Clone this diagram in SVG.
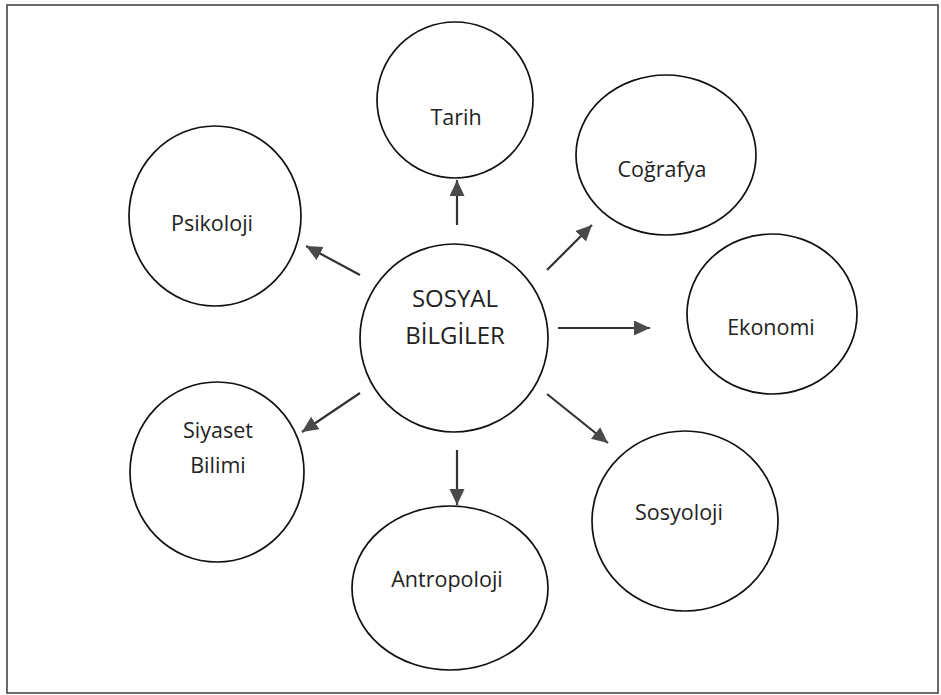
<svg xmlns="http://www.w3.org/2000/svg" width="941" height="695" viewBox="0 0 941 695">
<style>
.node ellipse{fill:#fff;stroke:#111;stroke-width:1.7}
.node text{font-family:"Open Sans","Noto Sans",sans-serif;font-size:21.5px;fill:#222;text-anchor:middle}
.node text.big{font-size:24px}
.conn line{stroke:#333;stroke-width:2.2}
</style>
<defs>
<marker id="ah" markerUnits="userSpaceOnUse" markerWidth="18" markerHeight="16" refX="16" refY="7.5" orient="auto">
<path d="M0,0 L16,7.5 L0,15 Z" fill="#4a4a4a"/>
</marker>
</defs>
<rect x="7" y="5" width="931" height="688" fill="#fff" stroke="#444" stroke-width="1.6"/>
<g class="conn">
<line x1="457" y1="225" x2="457" y2="180" marker-end="url(#ah)"/>
<line x1="360" y1="275" x2="306" y2="246" marker-end="url(#ah)"/>
<line x1="547" y1="270" x2="592" y2="225" marker-end="url(#ah)"/>
<line x1="558" y1="328" x2="650" y2="328" marker-end="url(#ah)"/>
<line x1="360" y1="393" x2="302" y2="432" marker-end="url(#ah)"/>
<line x1="457" y1="450" x2="457" y2="505" marker-end="url(#ah)"/>
<line x1="547" y1="394" x2="608" y2="443" marker-end="url(#ah)"/>
</g>
<g id="sosyal" class="node"><ellipse cx="454" cy="338" rx="94" ry="94"/><text class="big" x="455" y="307">SOSYAL</text><text class="big" x="455" y="344">BİLGİLER</text></g>
<g id="tarih" class="node"><ellipse cx="455" cy="100" rx="78" ry="78"/><text x="456" y="125">Tarih</text></g>
<g id="psikoloji" class="node"><ellipse cx="215" cy="216" rx="86" ry="90"/><text x="212" y="231">Psikoloji</text></g>
<g id="cografya" class="node"><ellipse cx="666" cy="155" rx="90" ry="80"/><text x="662" y="177">Coğrafya</text></g>
<g id="ekonomi" class="node"><ellipse cx="772" cy="314" rx="85" ry="80"/><text x="771" y="335">Ekonomi</text></g>
<g id="siyaset" class="node"><ellipse cx="217" cy="472" rx="87" ry="90"/><text x="218" y="438">Siyaset</text><text x="218" y="473">Bilimi</text></g>
<g id="antropoloji" class="node"><ellipse cx="450" cy="588" rx="98" ry="82"/><text x="447" y="587">Antropoloji</text></g>
<g id="sosyoloji" class="node"><ellipse cx="685" cy="521" rx="93" ry="90"/><text x="679" y="520">Sosyoloji</text></g>
</svg>
